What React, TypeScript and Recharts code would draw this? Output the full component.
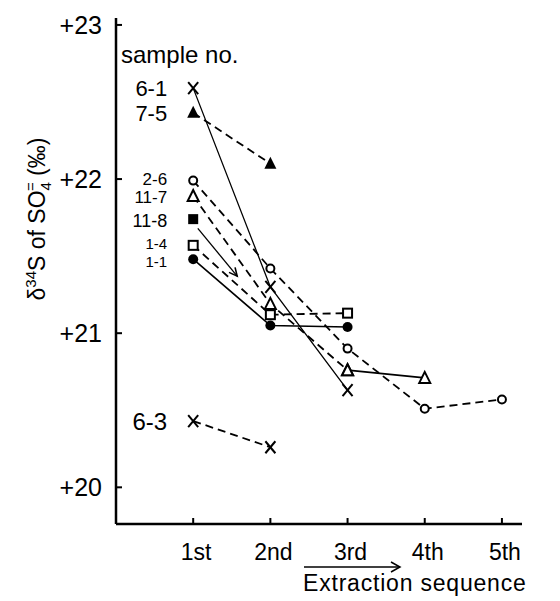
import React from 'react';
import { LineChart, Line, XAxis, YAxis } from 'recharts';

// extraction steps (x axis)
const steps = ['1st', '2nd', '3rd', '4th', '5th'];
const yTicks = [20, 21, 22, 23];

// delta 34S values per sample, starting at the 1st extraction
const s6_1 = [22.59, 21.3, 20.63];
const s7_5 = [22.43, 22.1];
const s2_6 = [21.99, 21.42, 20.9, 20.51, 20.57];
const s11_7 = [21.89, 21.19, 20.76, 20.71];
const s11_8 = [21.74];
const s1_4 = [21.57, 21.12, 21.13];
const s1_1 = [21.48, 21.05, 21.04];
const s6_3 = [20.43, 20.26];

// arrow drawn from sample 11-8 (start / tip)
const arrowSteps = [1.06, 1.57];
const arrowValues = [21.68, 21.37];

const FONT = '"Liberation Sans", Arial, sans-serif';

type Pt = { x: number; y: number };
const pts = (vals: number[], from = 1): Pt[] => vals.map((y, i) => ({ x: from + i, y }));

function Marker({ kind, cx, cy }: { kind: string; cx: number; cy: number }) {
    switch (kind) {
        case 'x':
            return (
                <g stroke="#000" strokeWidth={2}>
                    <line x1={cx - 5} y1={cy - 6} x2={cx + 5} y2={cy + 6} />
                    <line x1={cx + 5} y1={cy - 6} x2={cx - 5} y2={cy + 6} />
                </g>
            );
        case 'triF':
            return <polygon points={`${cx},${cy - 7} ${cx - 6},${cy + 5} ${cx + 6},${cy + 5}`} fill="#000" />;
        case 'triO':
            return (
                <polygon
                    points={`${cx},${cy - 6} ${cx - 5.5},${cy + 5} ${cx + 5.5},${cy + 5}`}
                    fill="#fff"
                    stroke="#000"
                    strokeWidth={2}
                />
            );
        case 'circO':
            return <circle cx={cx} cy={cy} r={4} fill="#fff" stroke="#000" strokeWidth={2} />;
        case 'circF':
            return <circle cx={cx} cy={cy} r={5} fill="#000" />;
        case 'sqF':
            return <rect x={cx - 5} y={cy - 5} width={10} height={10} fill="#000" />;
        case 'sqO':
            return <rect x={cx - 4.5} y={cy - 4.5} width={9} height={9} fill="#fff" stroke="#000" strokeWidth={2} />;
        default:
            return null;
    }
}

// marker renderer; the first point also carries the sample label
const makeDot = (kind: string, label?: string, labelSize = 20, shift = 0) => (props: any) => {
    const { cx, cy, index } = props;
    if (cx == null || cy == null) return <g key={`d-${index}`} />;
    return (
        <g key={`d-${kind}-${label}-${index}`}>
            <Marker kind={kind} cx={cx} cy={cy} />
            {label && index === 0 && (
                <text
                    x={cx - 26}
                    y={cy + shift}
                    dy="0.36em"
                    textAnchor="end"
                    fontSize={labelSize}
                    fontFamily={FONT}
                    fill="#000"
                >
                    {label}
                </text>
            )}
        </g>
    );
};

// arrowhead at the last point of the 11-8 arrow
const arrowDot = (props: any) => {
    const { cx, cy, index, points } = props;
    if (index === 0 || cx == null) return <g key={`a-${index}`} />;
    let ang = Math.atan2(49, 39);
    if (points && points.length > 1) {
        ang = Math.atan2(points[1].y - points[0].y, points[1].x - points[0].x);
    }
    const len = 9;
    const a1 = ang + Math.PI - 0.45;
    const a2 = ang + Math.PI + 0.45;
    return (
        <g key={`a-${index}`} stroke="#000" strokeWidth={1.6} fill="none">
            <polyline
                points={`${cx + len * Math.cos(a1)},${cy + len * Math.sin(a1)} ${cx},${cy} ${cx + len * Math.cos(a2)},${cy + len * Math.sin(a2)}`}
            />
        </g>
    );
};

const YTick = (props: any) => {
    const { x, y, payload } = props;
    return (
        <g>
            <line x1={x} x2={x + 6} y1={y} y2={y} stroke="#000" strokeWidth={2} />
            <text x={x - 14} y={y} dy="0.36em" textAnchor="end" fontSize={25} fontFamily={FONT} fill="#000">
                +{payload.value}
            </text>
        </g>
    );
};

const XTick = (props: any) => {
    const { x, y, payload } = props;
    return (
        <g>
            <line x1={x} x2={x} y1={y} y2={y - 6} stroke="#000" strokeWidth={2} />
            <text x={x + 3} y={y + 36} textAnchor="middle" fontSize={23} fontFamily={FONT} fill="#000">
                {steps[payload.value - 1]}
            </text>
        </g>
    );
};

const dashed = { stroke: '#000', strokeWidth: 1.8, strokeDasharray: '8 5' };
const solid = { stroke: '#000', strokeWidth: 1.3 };

export default function App() {
    const d11_7 = pts(s11_7);
    const arrowData = arrowSteps.map((x, i) => ({ x, y: arrowValues[i] }));

    return (
        <div style={{ position: 'absolute', left: 0, top: 0, width: 560, height: 601, background: '#fff' }}>
            <LineChart
                width={560}
                height={601}
                margin={{ top: 18, right: 38, left: 56, bottom: 47 }}
            >
                <XAxis
                    type="number"
                    dataKey="x"
                    domain={[0, 5.26]}
                    ticks={[1, 2, 3, 4, 5]}
                    allowDataOverflow
                    height={30}
                    axisLine={{ stroke: '#000', strokeWidth: 2.5 }}
                    tickLine={false}
                    tickSize={0}
                    tickMargin={0}
                    tick={(p: any) => <XTick {...p} />}
                />
                <YAxis
                    type="number"
                    dataKey="y"
                    domain={[19.762, 23.045]}
                    ticks={yTicks}
                    allowDataOverflow
                    width={60}
                    axisLine={{ stroke: '#000', strokeWidth: 2.5 }}
                    tickLine={false}
                    tickSize={0}
                    tickMargin={0}
                    tick={(p: any) => <YTick {...p} />}
                />
                <Line data={pts(s6_1)} dataKey="y" {...solid} dot={makeDot('x', '6-1', 22)} isAnimationActive={false} />
                <Line data={pts(s7_5)} dataKey="y" {...dashed} dot={makeDot('triF', '7-5', 22)} isAnimationActive={false} />
                <Line data={pts(s2_6)} dataKey="y" {...dashed} dot={makeDot('circO', '2-6', 17, -2)} isAnimationActive={false} />
                <Line data={d11_7.slice(0, 3)} dataKey="y" {...dashed} dot={makeDot('triO', '11-7', 17, 1)} isAnimationActive={false} />
                <Line data={d11_7.slice(2)} dataKey="y" {...solid} strokeWidth={1.8} dot={makeDot('triO')} isAnimationActive={false} />
                <Line data={arrowData} dataKey="y" {...solid} dot={arrowDot} isAnimationActive={false} />
                <Line data={pts(s11_8)} dataKey="y" {...solid} dot={makeDot('sqF', '11-8', 18, 1)} isAnimationActive={false} />
                <Line data={pts(s1_4)} dataKey="y" {...dashed} dot={makeDot('sqO', '1-4', 15, -2)} isAnimationActive={false} />
                <Line data={pts(s1_1)} dataKey="y" {...solid} strokeWidth={1.6} dot={makeDot('circF', '1-1', 15, 2)} isAnimationActive={false} />
                <Line data={pts(s6_3)} dataKey="y" {...dashed} dot={makeDot('x', '6-3', 24)} isAnimationActive={false} />
            </LineChart>
            <svg
                width={560}
                height={601}
                style={{ position: 'absolute', left: 0, top: 0, pointerEvents: 'none' }}
                fontFamily={FONT}
            >
                <text x={121} y={63} fontSize={24} fill="#000">sample no.</text>
                <text transform="translate(45,219) rotate(-90)" textAnchor="middle" fontSize={23} fill="#000">
                    δ<tspan dy={-9} fontSize={15}>34</tspan>
                    <tspan dy={9}>S of SO</tspan>
                    <tspan dy={6} fontSize={15}>4</tspan>
                    <tspan dx={-9} dy={-15} fontSize={15}>=</tspan>
                    <tspan dy={9}> (‰)</tspan>
                </text>
                <line x1={304} y1={567} x2={400} y2={567} stroke="#000" strokeWidth={1.5} />
                <polyline points="391,562 400,567 391,572" stroke="#000" strokeWidth={1.5} fill="none" />
                <text x={303} y={591} fontSize={23} letterSpacing={0.8} fill="#000">Extraction sequence</text>
            </svg>
        </div>
    );
}
